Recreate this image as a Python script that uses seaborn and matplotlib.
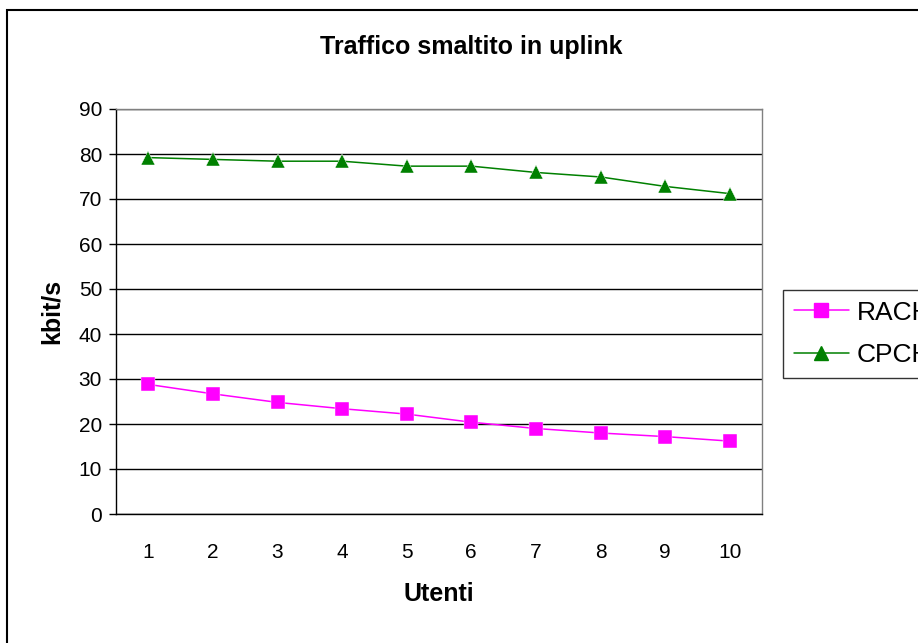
import numpy as np
import pandas as pd
import seaborn as sns
import matplotlib.pyplot as plt
from matplotlib.patches import Rectangle

utenti = [1, 2, 3, 4, 5, 6, 7, 8, 9, 10]
rach = [28.8, 26.7, 24.8, 23.4, 22.2, 20.4, 19.0, 18.0, 17.2, 16.2]
cpch = [79.2, 78.8, 78.4, 78.4, 77.3, 77.3, 75.9, 74.9, 72.8, 71.2]
serie = ['RACH', 'CPCH']
colori = ['#FF00FF', '#008000']

df = pd.DataFrame({
    'Utenti': utenti * 2,
    'kbit/s': rach + cpch,
    'Serie': ['RACH'] * len(utenti) + ['CPCH'] * len(utenti),
})

sns.set_style('white')
plt.rcParams['font.family'] = ['Liberation Sans', 'DejaVu Sans']
plt.rcParams.update({'text.color': 'black', 'axes.labelcolor': 'black',
                     'xtick.color': 'black', 'ytick.color': 'black'})

fig = plt.figure(figsize=(9.18, 6.43), dpi=100)
ax = fig.add_axes([116/918, 1-514/643, (762-116)/918, (514-109)/643])

sns.lineplot(ax=ax, data=df, x='Utenti', y='kbit/s', hue='Serie', style='Serie',
             hue_order=serie, style_order=serie, palette=colori,
             markers={'RACH': 's', 'CPCH': '^'}, dashes=False,
             markersize=10.5, linewidth=1.1, markeredgewidth=0.3, legend=False)

ax.set_xlim(0.5, 10.5)
ax.set_ylim(0, 90)
ax.set_yticks(np.arange(0, 91, 10))
ax.set_xticks(utenti)
ax.set_xticks(np.arange(0.5, 10.6, 1), minor=True)
ax.tick_params(axis='x', which='major', length=0, pad=21, labelsize=15)
ax.tick_params(axis='x', which='minor', length=6, width=1, direction='out', color='black')
ax.tick_params(axis='y', length=5, width=1, direction='out', color='black', labelsize=15,
               left=True, pad=5)
ax.yaxis.grid(True, color='black', linewidth=1)
ax.set_axisbelow(True)
for s in ['left', 'bottom']:
    ax.spines[s].set_color('black')
    ax.spines[s].set_linewidth(1)
for s in ['top', 'right']:
    ax.spines[s].set_color('#808080')
    ax.spines[s].set_linewidth(1)

ax.set_xlabel('Utenti', fontsize=18, fontweight='bold', va='center')
ax.xaxis.set_label_coords(0.5, -(594-514)/405)
ax.set_ylabel('kbit/s', fontsize=18, fontweight='bold', va='center')
ax.yaxis.set_label_coords((52-116)/646, 0.5)
fig.text(471/918, 1-47/643, 'Traffico smaltito in uplink', ha='center', va='center',
         fontsize=18, fontweight='bold')

handles = [plt.Line2D([], [], color=c, marker=m, markersize=10.5, linewidth=1.1)
           for c, m in zip(colori, ['s', '^'])]
leg = fig.legend(handles, serie, loc='upper left', bbox_to_anchor=(783/918, 1-290/643),
                 borderaxespad=0, frameon=True, fancybox=False, fontsize=19,
                 handlelength=2.1, borderpad=0.4, labelspacing=0.7, handletextpad=0.3)
leg.get_frame().set_edgecolor('black')
leg.get_frame().set_linewidth(1)

fig.patches.append(Rectangle((7/918, -0.1), 1.2, 1-10/643+0.1, transform=fig.transFigure,
                             fill=False, edgecolor='black', linewidth=1.5))

fig.savefig('out.png', dpi=100)
